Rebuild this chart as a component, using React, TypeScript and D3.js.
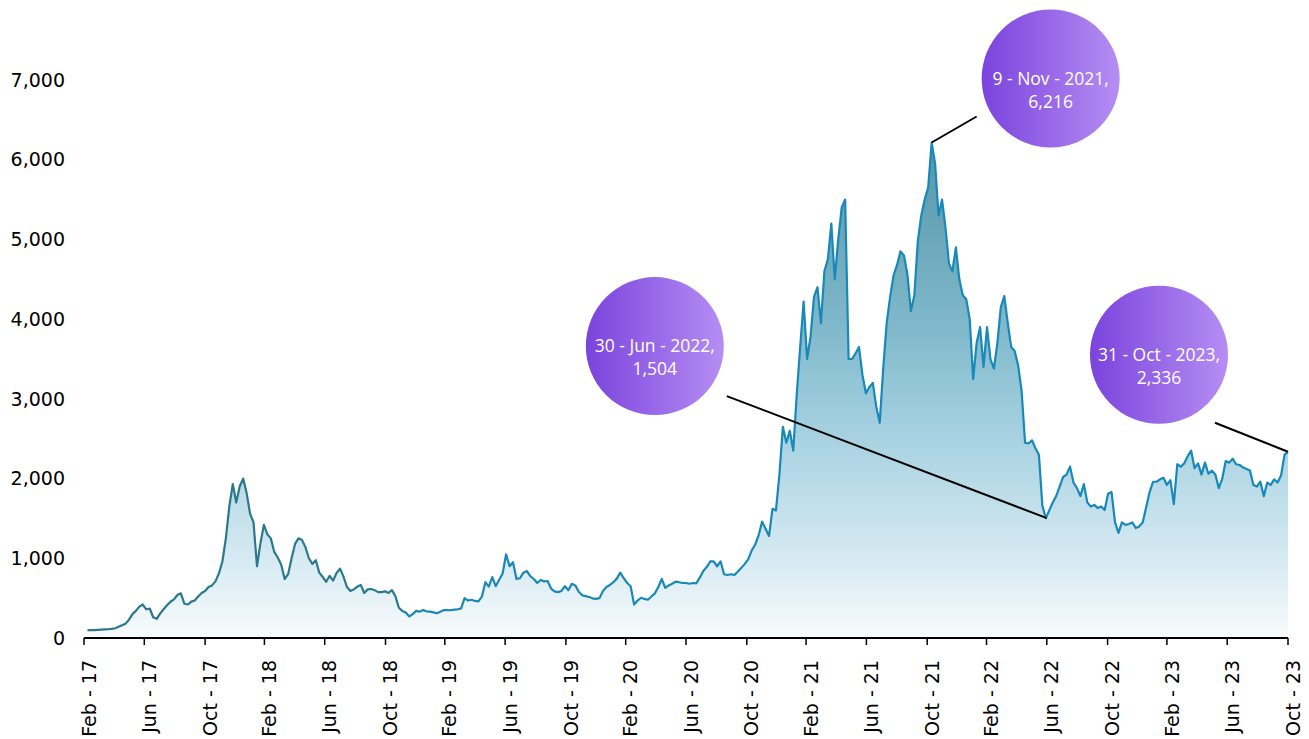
import React from 'react';
import * as d3 from 'd3';

// weekly series, first point 2017-03-07, step 7 days, last point 2023-10-31
const startDate = '2017-03-07';
const values: number[] = [
  95, 100, 98, 102, 105, 108, 110, 115, 122, 140,
  160, 180, 230, 300, 340, 393, 420, 360, 370, 260,
  240, 305, 360, 410, 455, 485, 540, 560, 430, 420,
  456, 470, 520, 565, 590, 640, 660, 710, 810, 960,
  1250, 1650, 1930, 1700, 1900, 2000, 1820, 1560, 1450, 900,
  1190, 1420, 1300, 1250, 1080, 1010, 920, 740, 800, 1000,
  1180, 1250, 1230, 1140, 1000, 930, 975, 820, 765, 705,
  780, 720, 815, 870, 770, 640, 590, 610, 645, 665,
  565, 610, 615, 600, 575, 575, 585, 565, 600, 525,
  380, 340, 320, 270, 300, 340, 330, 350, 335, 330,
  322, 310, 330, 350, 350, 348, 355, 360, 372, 500,
  470, 480, 465, 460, 518, 700, 645, 765, 650, 730,
  810, 1050, 900, 950, 740, 750, 820, 840, 775, 740,
  690, 728, 710, 715, 620, 585, 575, 590, 650, 600,
  680, 660, 580, 535, 525, 515, 498, 490, 500, 590,
  640, 665, 700, 745, 820, 750, 690, 650, 420, 470,
  505, 490, 480, 520, 560, 640, 740, 630, 660, 680,
  707, 700, 690, 690, 680, 690, 686, 760, 840, 890,
  960, 960, 900, 960, 800, 790, 800, 790, 835, 880,
  930, 990, 1100, 1170, 1290, 1460, 1370, 1280, 1620, 1600,
  2050, 2650, 2450, 2600, 2350, 3050, 3650, 4220, 3500, 3780,
  4280, 4400, 3950, 4600, 4750, 5200, 4500, 5000, 5400, 5500,
  3500, 3500, 3570, 3650, 3300, 3070, 3150, 3200, 2900, 2700,
  3380, 3950, 4280, 4550, 4680, 4850, 4800, 4560, 4100, 4300,
  4980, 5300, 5500, 5650, 6216, 5950, 5300, 5500, 5150, 4700,
  4600, 4900, 4500, 4300, 4250, 4000, 3250, 3700, 3900, 3400,
  3900, 3500, 3380, 3700, 4150, 4290, 3950, 3650, 3600, 3420,
  3100, 2450, 2440, 2480, 2380, 2300, 1660, 1504, 1600, 1700,
  1780, 1900, 2020, 2050, 2150, 1950, 1880, 1780, 1930, 1700,
  1650, 1670, 1630, 1650, 1606, 1810, 1830, 1450, 1320, 1450,
  1420, 1430, 1450, 1380, 1400, 1450, 1640, 1830, 1960, 1960,
  1990, 2010, 1920, 1980, 1680, 2180, 2150, 2190, 2280, 2350,
  2130, 2190, 2050, 2200, 2060, 2100, 2050, 1880, 2000, 2220,
  2200, 2250, 2180, 2170, 2140, 2120, 2100, 1920, 1900, 1960,
  1780, 1950, 1920, 1990, 1950, 2040, 2300, 2336,
];

const xDomain = ['2017-02-28', '2023-10-31'];
const tickDates = [
  '2017-02-28', '2017-06-30', '2017-10-31',
  '2018-02-28', '2018-06-30', '2018-10-31',
  '2019-02-28', '2019-06-30', '2019-10-31',
  '2020-02-29', '2020-06-30', '2020-10-31',
  '2021-02-28', '2021-06-30', '2021-10-31',
  '2022-02-28', '2022-06-30', '2022-10-31',
  '2023-02-28', '2023-06-30', '2023-10-31',
];
const yTicks = [0, 1000, 2000, 3000, 4000, 5000, 6000, 7000];

const annDates = ['2021-11-09', '2022-06-30', '2023-10-31'];
const annValues = [6216, 1504, 2336];

// layout of annotation bubbles (offsets from annotated point)
const bubbleLayout = [
  { cx: 119, cy: -64, lx: 45, ly: -26 },
  { cx: -392, cy: -172, lx: -320, ly: -122 },
  { cx: -129, cy: -97, lx: -73, ly: -29 },
];

const W = 1309;
const H = 739;
const X0 = 84;
const X1 = 1288;
const Y0 = 638;
const Y1 = 80;
const R = 69;

const parse = d3.timeParse('%Y-%m-%d');

export default function App() {
  const start = parse(startDate) as Date;
  const data = values.map((v, i) => ({ date: d3.timeDay.offset(start, 7 * i), value: v }));
  const x = d3
    .scaleTime()
    .domain([parse(xDomain[0]) as Date, parse(xDomain[1]) as Date])
    .range([X0, X1]);
  const y = d3.scaleLinear().domain([0, 7000]).range([Y0, Y1]);

  const line = d3
    .line<{ date: Date; value: number }>()
    .x((d) => x(d.date))
    .y((d) => y(d.value));
  const area = d3
    .area<{ date: Date; value: number }>()
    .x((d) => x(d.date))
    .y0(Y0)
    .y1((d) => y(d.value));

  const fmtTick = d3.timeFormat('%b - %y');
  const fmtAnn = d3.timeFormat('%-d - %b - %Y');
  const fmtNum = d3.format(',');

  const font = "'DejaVu Sans', sans-serif";
  const annFont = "'Open Sans', sans-serif";

  return (
    <svg
      width={W}
      height={H}
      style={{ position: 'absolute', left: 0, top: 0, background: '#fff' }}
    >
      <defs>
        <linearGradient id="fillGrad" gradientUnits="userSpaceOnUse" x1="0" x2="0" y1={y(6250)} y2={Y0}>
          <stop offset="0" stopColor="#5595a8" />
          <stop offset="0.38" stopColor="#80b9cb" />
          <stop offset="0.58" stopColor="#a4d0e0" />
          <stop offset="0.84" stopColor="#d6eaf2" />
          <stop offset="1" stopColor="#f8fbfd" />
        </linearGradient>
        <linearGradient id="strokeGrad" gradientUnits="userSpaceOnUse" x1={X0} x2={X1} y1="0" y2="0">
          <stop offset="0" stopColor="#2b768a" />
          <stop offset="0.262" stopColor="#2a7b90" />
          <stop offset="0.27" stopColor="#1a88b7" />
          <stop offset="1" stopColor="#1589bb" />
        </linearGradient>
        <linearGradient id="bubbleGrad" x1="0" x2="1" y1="0" y2="0">
          <stop offset="0" stopColor="#7b43dd" />
          <stop offset="1" stopColor="#b58ef3" />
        </linearGradient>
      </defs>

      <path d={area(data) || ''} fill="url(#fillGrad)" />
      <path
        d={line(data) || ''}
        fill="none"
        stroke="url(#strokeGrad)"
        strokeWidth={2.2}
        strokeLinejoin="round"
      />

      {/* y axis labels */}
      {yTicks.map((t) => (
        <text
          key={t}
          x={65}
          y={y(t)}
          dy="0.35em"
          textAnchor="end"
          fontFamily={font}
          fontSize={19}
          fill="#000"
        >
          {fmtNum(t)}
        </text>
      ))}

      {/* x axis */}
      <line x1={X0} x2={X1} y1={Y0} y2={Y0} stroke="#000" strokeWidth={2} />
      {tickDates.map((s) => {
        const d = parse(s) as Date;
        const tx = x(d);
        return (
          <g key={s}>
            <line x1={tx} x2={tx} y1={Y0} y2={Y0 + 7} stroke="#000" strokeWidth={1.5} />
            <text
              transform={`translate(${tx + 5},${Y0 + 22}) rotate(-90)`}
              textAnchor="end"
              dy="0.35em"
              fontFamily={font}
              fontSize={19}
              fill="#000"
            >
              {fmtTick(d)}
            </text>
          </g>
        );
      })}

      {/* annotations */}
      {annDates.map((s, i) => {
        const d = parse(s) as Date;
        const px = x(d);
        const py = y(annValues[i]);
        const b = bubbleLayout[i];
        const cx = px + b.cx;
        const cy = py + b.cy;
        return (
          <g key={s}>
            <line x1={px} y1={py} x2={px + b.lx} y2={py + b.ly} stroke="#000" strokeWidth={2} />
            <circle cx={cx} cy={cy} r={R} fill="url(#bubbleGrad)" />
            <text
              x={cx}
              y={cy}
              dy="0.35em"
              textAnchor="middle"
              fontFamily={annFont}
              fontSize={17.5}
              fill="#fff"
            >
              {fmtAnn(d) + ','}
            </text>
            <text
              x={cx}
              y={cy + 23}
              dy="0.35em"
              textAnchor="middle"
              fontFamily={annFont}
              fontSize={17.5}
              fill="#fff"
            >
              {fmtNum(annValues[i])}
            </text>
          </g>
        );
      })}
    </svg>
  );
}
